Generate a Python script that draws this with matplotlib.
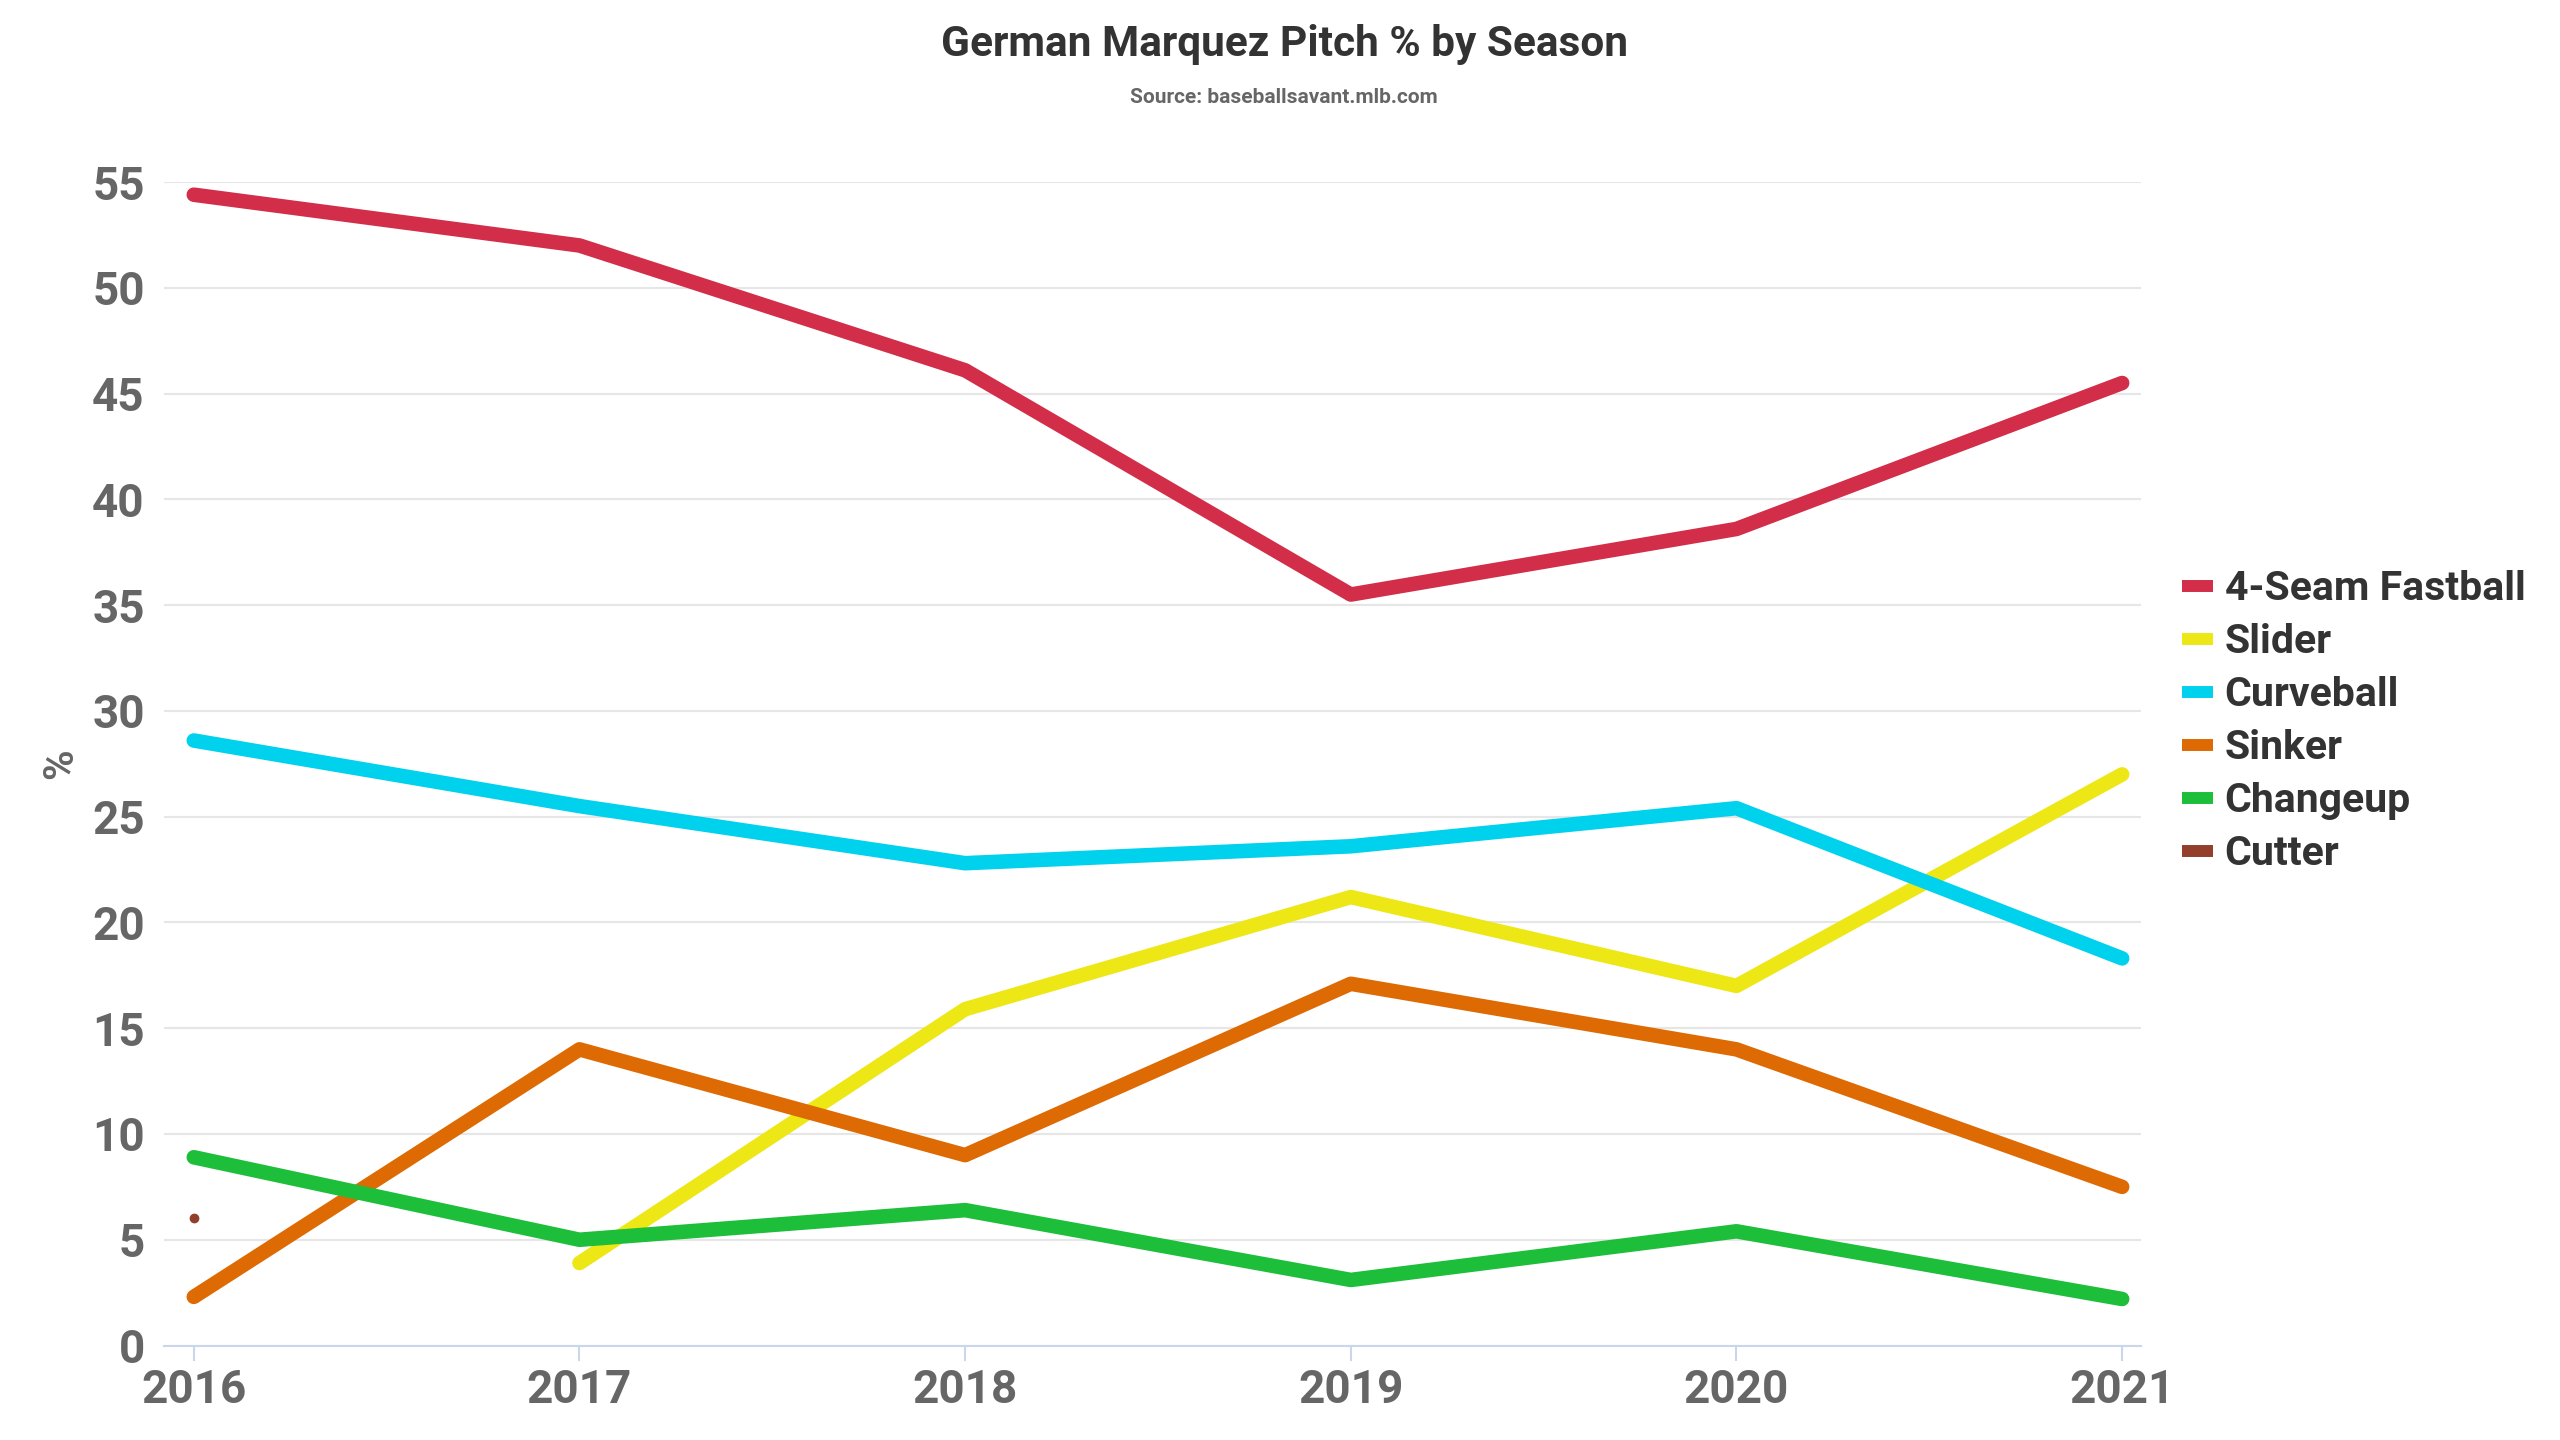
import matplotlib
matplotlib.use("Agg")
import matplotlib.pyplot as plt
from matplotlib.lines import Line2D

plt.rcParams['font.family'] = ['Roboto', 'DejaVu Sans']

years = [2016, 2017, 2018, 2019, 2020, 2021]
fastball = [54.4, 52.0, 46.1, 35.5, 38.6, 45.5]
slider_years = [2017, 2018, 2019, 2020, 2021]
slider = [3.9, 15.9, 21.2, 17.0, 27.0]
curveball = [28.6, 25.5, 22.8, 23.6, 25.4, 18.3]
sinker = [2.3, 14.0, 9.0, 17.1, 14.0, 7.5]
changeup = [8.9, 5.0, 6.4, 3.1, 5.4, 2.2]
cutter_years = [2016]
cutter = [6.05]

names = ['4-Seam Fastball', 'Slider', 'Curveball', 'Sinker', 'Changeup', 'Cutter']
colors = ['#d22d49', '#eee716', '#00d1ed', '#de6a04', '#1dbe3a', '#933f2c']
yticks = [0, 5, 10, 15, 20, 25, 30, 35, 40, 45, 50, 55]

fig = plt.figure(figsize=(25.6, 14.4), dpi=100)
ax = fig.add_axes([0.0641, 0.0656, 0.7724, 0.808])

lw = 10.5
series = [(years, fastball), (slider_years, slider), (years, curveball),
          (years, sinker), (years, changeup)]
for (xs, ys), c in zip(series, colors[:5]):
    ax.plot(xs, ys, color=c, lw=lw, solid_capstyle='round', solid_joinstyle='round', zorder=3)
ax.plot(cutter_years, cutter, color=colors[5], marker='o', markersize=6, lw=0, zorder=3)

ax.set_xlim(2015.923, 2021.05)
ax.set_ylim(0, 55)
ax.set_yticks(yticks)
ax.set_xticks(years)
ax.yaxis.grid(True, color='#e6e6e6', lw=1.5)
ax.set_axisbelow(True)
for s in ['top', 'right', 'left']:
    ax.spines[s].set_visible(False)
ax.spines['bottom'].set_color('#ccd6eb')
ax.spines['bottom'].set_linewidth(1.5)
ax.tick_params(axis='y', length=0, pad=14, labelsize=33, labelcolor='#666666')
ax.tick_params(axis='x', length=11, width=1.5, color='#ccd6eb', pad=5, labelsize=33, labelcolor='#666666')
for lab in ax.get_xticklabels() + ax.get_yticklabels():
    lab.set_fontweight('bold')

ax.set_ylabel('%', fontsize=30, fontweight='bold', color='#666666', labelpad=8)

fig.text(0.5016, 0.969, 'German Marquez Pitch % by Season', ha='center', va='center',
         fontsize=30.5, fontweight='bold', color='#333333')
fig.text(0.5016, 0.932, 'Source: baseballsavant.mlb.com', ha='center', va='center',
         fontsize=15, fontweight='bold', color='#666666')

leg_fs = 29.5
px = leg_fs * 100 / 72
handles = [Line2D([0], [0], color=c, lw=8.6, solid_capstyle='butt') for c in colors]
leg = fig.legend(handles, names, loc='center left', bbox_to_anchor=(0.838, 0.499),
                 frameon=False, prop={'size': leg_fs, 'weight': 'bold'},
                 handlelength=31 / px, handletextpad=0.28,
                 labelspacing=(56 - px) / px)
for t in leg.get_texts():
    t.set_color('#333333')

fig.savefig('out.png', dpi=100, facecolor='white')
